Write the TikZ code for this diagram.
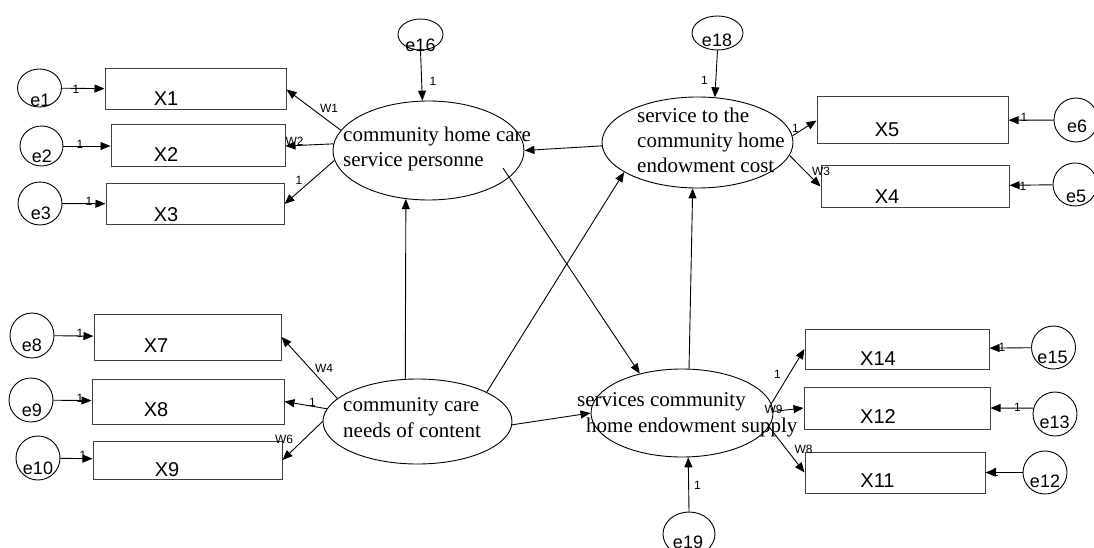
\documentclass[tikz,border=0pt]{standalone}
\usepackage{fontspec}
\setmainfont{Liberation Serif}
\setsansfont{Liberation Sans}
\usetikzlibrary{shapes.geometric,arrows.meta}

\tikzset{
  obs/.style={rectangle,draw=black!75,line width=1pt,inner sep=0pt},
  err/.style={ellipse,draw,line width=0.9pt,inner sep=0pt,minimum width=44pt,minimum height=43pt},
  lat/.style={ellipse,draw,line width=0.9pt,inner sep=0pt},
  vname/.style={font=\sffamily\fontsize{20}{24}\selectfont,inner sep=0pt},
  ename/.style={font=\sffamily\fontsize{18}{22}\selectfont,inner sep=0pt,anchor=base},
  lname/.style={font=\rmfamily\fontsize{21}{25.5}\selectfont,inner sep=0pt,align=left,anchor=base west},
  wt/.style={font=\sffamily\fontsize{12}{14}\selectfont,inner sep=0pt},
  pth/.style={-{Triangle[length=10pt,width=8pt]},line width=0.9pt},
}

\begin{document}
\begin{tikzpicture}[x=1pt,y=-1pt]
\useasboundingbox (0,0) rectangle (1094,548);

% latent variables
\node[lat,minimum width=191pt,minimum height=99pt] (ell1) at (428.5,150.5) {};
\node[lat,minimum width=191pt,minimum height=91pt] (ell2) at (697.5,142.5) {};
\node[lat,minimum width=189pt,minimum height=85pt] (ell3) at (417.5,421.5) {};
\node[lat,minimum width=182pt,minimum height=88pt] (ell4) at (682,413) {};

% base of a multi-line node = last line
\node[lname] (t1) at (343,167) {community home care\\service personne};
\node[lname] (t2) at (637,173) {service to the\\community home\\endowment cost};
\node[lname] (t3) at (343,437) {community care\\needs of content};
\node[lname] (t4) at (577,432) {services community\\\hspace*{9pt}home endowment supply};

% observed variables
\node[obs,minimum width=181pt,minimum height=41pt] (x1) at (195.5,89.5) {};
\node[obs,minimum width=174pt,minimum height=42pt] (x2) at (198,146) {};
\node[obs,minimum width=178pt,minimum height=40pt] (x3) at (195,204) {};
\node[obs,minimum width=191pt,minimum height=47pt] (x5) at (912.5,120.5) {};
\node[obs,minimum width=188pt,minimum height=41pt] (x4) at (915,186.5) {};
\node[obs,minimum width=187pt,minimum height=46pt] (x7) at (187.5,337) {};
\node[obs,minimum width=192pt,minimum height=45pt] (x8) at (188,401.5) {};
\node[obs,minimum width=189pt,minimum height=38pt] (x9) at (187.5,460) {};
\node[obs,minimum width=184pt,minimum height=40pt] (x14) at (897,349) {};
\node[obs,minimum width=186pt,minimum height=42pt] (x12) at (897,408) {};
\node[obs,minimum width=180pt,minimum height=41pt] (x11) at (895,472.5) {};

\node[vname] (x1t) at (166,99) {X1};
\node[vname] (x2t) at (166,155) {X2};
\node[vname] (x3t) at (166,215) {X3};
\node[vname] (x5t) at (887,130) {X5};
\node[vname] (x4t) at (887,196.5) {X4};
\node[vname] (x7t) at (156,346) {X7};
\node[vname] (x8t) at (156,410) {X8};
\node[vname] (x9t) at (167,470) {X9};
\node[vname] (x14t) at (878,358.5) {X14};
\node[vname] (x12t) at (878,417) {X12};
\node[vname] (x11t) at (877.5,481) {X11};

% error terms
\node[err,minimum height=38pt] (e1) at (39.5,88) {};
\node[err,minimum width=43pt,minimum height=40pt] (e2) at (41.5,146) {};
\node[err] (e3) at (40,203.5) {};
\node[err,minimum width=45pt,minimum height=31pt] (e16) at (420.5,34.5) {};
\node[err,minimum width=51pt,minimum height=34pt] (e18) at (717.5,33) {};
\node[err,minimum height=44pt] (e6) at (1076,120) {};
\node[err] (e5) at (1075,184.5) {};
\node[err,minimum height=45pt] (e8) at (32,335.5) {};
\node[err,minimum height=44pt] (e9) at (31,400) {};
\node[err,minimum height=44pt] (e10) at (38,458) {};
\node[err] (e15) at (1053.5,347.5) {};
\node[err,minimum height=44pt] (e13) at (1055,414) {};
\node[err] (e12) at (1045,472.5) {};
\node[err,minimum width=52pt,minimum height=44pt] (e19) at (689,534) {};

\node[ename] (e1t) at (40.5,107) {e1};
\node[ename] (e2t) at (42,163) {e2};
\node[ename] (e3t) at (41,219) {e3};
\node[ename] (e16t) at (420.5,52) {e16};
\node[ename] (e18t) at (717,47) {e18};
\node[ename] (e6t) at (1077,133) {e6};
\node[ename] (e5t) at (1076,202) {e5};
\node[ename] (e8t) at (32,351) {e8};
\node[ename] (e9t) at (32,416) {e9};
\node[ename] (e10t) at (38,474) {e10};
\node[ename] (e15t) at (1052.5,363) {e15};
\node[ename] (e13t) at (1054.5,428) {e13};
\node[ename] (e12t) at (1045,487) {e12};
\node[ename] (e19t) at (688,548) {e19};

% error -> indicator
\draw[pth] (e1) -- (x1);
\draw[pth] (e2) -- (x2);
\draw[pth] (e3) -- (x3);
\draw[pth] (e6) -- (x5);
\draw[pth] (e5) -- (x4);
\draw[pth] (e8) -- (x7);
\draw[pth] (e9) -- (x8);
\draw[pth] (e10) -- (x9);
\draw[pth] (e15) -- (x14);
\draw[pth] (e13.165) -- (x12.east);
\draw[pth] (e12) -- (x11);
\draw[pth] (e16.south) -- (ell1.97);
\draw[pth] (e18.south) -- (ell2.69);
\draw[pth] (e19.north) -- (ell4.278);

% latent -> indicator
\draw[pth] (ell1.167) -- (x1.east);
\draw[pth] (ell1.176) -- (x2.east);
\draw[pth] (ell1.186) -- (x3.east);
\draw[pth] (ell2.4) -- (x5.west);
\draw[pth] (ell2.-8) -- (x4.west);
\draw[pth] (ell3.164) -- (x7.east);
\draw[pth] (ell3.172) -- (x8.east);
\draw[pth] (ell3.west) -- (x9.east);
\draw[pth] (ell4.6) -- (x14.west);
\draw[pth] (ell4.1) -- (x12.west);
\draw[pth] (ell4.-9) -- (x11.west);

% structural paths
\coordinate (ell1in) at (503,168);
\draw[pth] (ell2.182) -- (ell1.east);
\draw[pth] (ell3.106) -- (ell1.245);
\draw[pth] (ell3.23) -- (ell2.202);
\draw[pth] (ell1in) -- (ell4.137);
\draw[pth] (ell4.81) -- (ell2.264);
\draw[pth] (ell3.-2) -- (ell4.west);

% weights
\node[wt] (w1a) at (76,89) {1};
\node[wt] (w2a) at (80,144) {1};
\node[wt] (w3a) at (89,201) {1};
\node[wt] (w1) at (329,108.5) {W1};
\node[wt] (w2) at (294.5,141) {W2};
\node[wt] (w3b) at (299,180) {1};
\node[wt] (w16) at (433,81.5) {1};
\node[wt] (w18) at (704.5,80) {1};
\node[wt] (w5b) at (795.5,128) {1};
\node[wt] (w3) at (821,171.5) {W3};
\node[wt] (w6a) at (1024,117) {1};
\node[wt] (w5a) at (1023,186) {1};
\node[wt] (w8a) at (80,333.5) {1};
\node[wt] (w9a) at (80,398.5) {1};
\node[wt] (w10a) at (83,455) {1};
\node[wt] (w4) at (324,368.5) {W4};
\node[wt] (w8b) at (312.5,402.5) {1};
\node[wt] (w6) at (284,439.5) {W6};
\node[wt] (w14b) at (777.5,374.5) {1};
\node[wt] (w9) at (773.5,409) {W9};
\node[wt] (w8) at (803.5,449.5) {W8};
\node[wt] (w15a) at (1002,347) {1};
\node[wt] (w13a) at (1017.5,407.5) {1};
\node[wt] (w12a) at (995.5,472) {1};
\node[wt] (w19) at (697.5,485.5) {1};

\end{tikzpicture}
\end{document}
